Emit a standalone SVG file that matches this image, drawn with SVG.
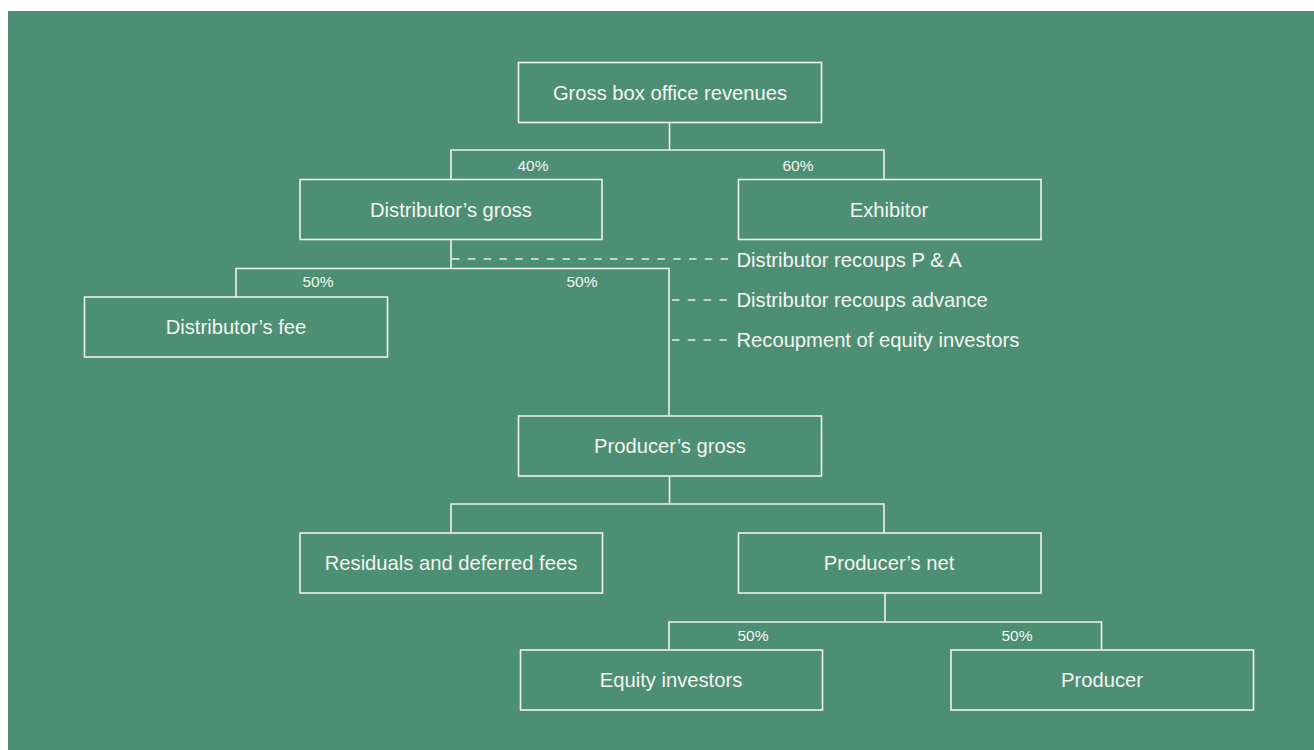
<svg xmlns="http://www.w3.org/2000/svg" width="1314" height="750" viewBox="0 0 1314 750">
  <style>
    .bg { fill: #4d8f74; }
    .box { fill: none; stroke: #eef0ea; stroke-width: 1.6; }
    .ln { fill: none; stroke: #eef0ea; stroke-width: 1.6; }
    .dash { fill: none; stroke: #e6ebe4; stroke-width: 1.6; stroke-dasharray: 7.5 8.3; }
    .t { font-family: "Liberation Sans", Arial, sans-serif; font-size: 20.2px; fill: #f4f5f0; text-anchor: middle; }
    .p { font-family: "Liberation Sans", Arial, sans-serif; font-size: 15.5px; fill: #f4f5f0; text-anchor: middle; }
    .n { font-family: "Liberation Sans", Arial, sans-serif; font-size: 20.2px; fill: #f4f5f0; text-anchor: start; }
  </style>
  <rect x="0" y="0" width="1314" height="750" fill="#ffffff"/>
  <rect class="bg" x="8" y="11" width="1306" height="739"/>

  <g id="connectors">
    <!-- Gross -> distributor / exhibitor -->
    <path class="ln" d="M669.5 122.5 V150 M451 179 V150 H884 V179"/>
    <!-- Distributor's gross -> fee / producer's gross -->
    <path class="ln" d="M451 239.5 V268.5 M236 297 V268.5 H669 V416"/>
    <!-- Producer's gross -> residuals / net -->
    <path class="ln" d="M669.5 476 V504 M451 533 V504 H884 V533"/>
    <!-- Producer's net -> equity / producer -->
    <path class="ln" d="M885 593 V622 M669 650 V622 H1101.5 V650"/>
    <!-- dashed notes -->
    <path class="dash" d="M452 259 H730"/>
    <path class="dash" d="M672 300 H730"/>
    <path class="dash" d="M672 340 H730"/>
  </g>

  <g id="labels">
    <text class="p" x="533" y="170.5">40%</text>
    <text class="p" x="798" y="170.5">60%</text>
    <text class="p" x="318" y="287">50%</text>
    <text class="p" x="582" y="287">50%</text>
    <text class="p" x="753" y="641">50%</text>
    <text class="p" x="1017" y="641">50%</text>
    <text class="n" x="736.5" y="267">Distributor recoups P &amp; A</text>
    <text class="n" x="736.5" y="307">Distributor recoups advance</text>
    <text class="n" x="736.5" y="347">Recoupment of equity investors</text>
  </g>

  <g id="gross-box-office">
    <rect class="box" x="518.5" y="62.5" width="303" height="60"/>
    <text class="t" x="670" y="99.5">Gross box office revenues</text>
  </g>
  <g id="distributors-gross">
    <rect class="box" x="300" y="179.5" width="302" height="60"/>
    <text class="t" x="451" y="216.5">Distributor’s gross</text>
  </g>
  <g id="exhibitor">
    <rect class="box" x="738.5" y="179.5" width="302.5" height="60"/>
    <text class="t" x="889" y="216.5">Exhibitor</text>
  </g>
  <g id="distributors-fee">
    <rect class="box" x="84.5" y="297" width="303" height="60"/>
    <text class="t" x="236" y="334">Distributor’s fee</text>
  </g>
  <g id="producers-gross">
    <rect class="box" x="518.5" y="416" width="303" height="60"/>
    <text class="t" x="670" y="453">Producer’s gross</text>
  </g>
  <g id="residuals">
    <rect class="box" x="300" y="533" width="302.5" height="60"/>
    <text class="t" x="451" y="570">Residuals and deferred fees</text>
  </g>
  <g id="producers-net">
    <rect class="box" x="738.5" y="533" width="302.5" height="60"/>
    <text class="t" x="889" y="570">Producer’s net</text>
  </g>
  <g id="equity-investors">
    <rect class="box" x="520.5" y="650" width="302" height="60"/>
    <text class="t" x="671" y="687">Equity investors</text>
  </g>
  <g id="producer">
    <rect class="box" x="951" y="650" width="302.5" height="60"/>
    <text class="t" x="1102" y="687">Producer</text>
  </g>
</svg>
